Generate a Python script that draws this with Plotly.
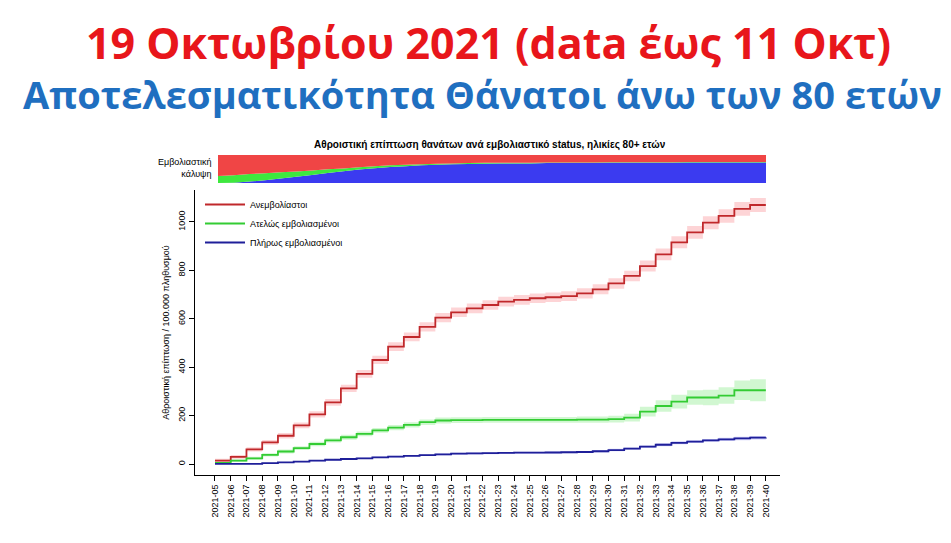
import plotly.graph_objects as go

weeks = [f"2021-{w:02d}" for w in range(5, 41)]
unvax = [14,30,61,90,117,160,205,255,313,373,430,485,525,567,605,627,643,657,671,678,685,689,694,705,722,746,777,818,866,916,957,997,1025,1054,1070,1070]
partial = [5,14,24,38,52,66,83,98,111,125,139,151,162,173,180,182,182,183,183,183,183,183,183,184,184,186,192,217,240,258,275,275,283,305,305,305]
full = [1,1,1,4,7,10,14,18,21,24,28,31,34,37,40,43,44,45,46,47,47,48,49,50,53,58,64,72,80,88,93,98,102,106,109,110]
unvax_ci = [8,8,9,10,11,12,13,14,15,16,17,18,18,19,19,20,20,20,20,20,20,20,20,21,21,22,22,23,24,25,26,27,28,28,29,29]
partial_ci = [4,5,6,7,8,8,9,9,10,10,10,11,11,11,12,12,12,12,12,12,12,12,12,13,13,14,16,20,24,28,30,32,34,40,45,45]
full_ci = [1,1,1,2,2,2,3,3,3,3,3,4,4,4,4,4,4,4,4,4,4,4,4,4,5,5,5,5,6,6,6,6,7,7,7,7]
cov_full = [0,0.01,0.05,0.10,0.16,0.22,0.29,0.36,0.42,0.48,0.53,0.57,0.60,0.63,0.65,0.67,0.68,0.69,0.70,0.70,0.70,0.71,0.71,0.71,0.71,0.72,0.72,0.72,0.72,0.72,0.73,0.73,0.73,0.73,0.73,0.73]
cov_partial = [0.25,0.27,0.27,0.25,0.22,0.19,0.16,0.13,0.10,0.08,0.07,0.06,0.05,0.04,0.04,0.03,0.03,0.03,0.02,0.02,0.02,0.02,0.02,0.02,0.02,0.02,0.02,0.02,0.02,0.02,0.02,0.02,0.02,0.02,0.02,0.02]
names = ["Ανεμβολίαστοι", "Ατελώς εμβολιασμένοι", "Πλήρως εμβολιασμένοι"]

W, H, OFF = 951, 543, 8
def px(x): return (x - OFF) / W
def py(y): return 1 - (y - OFF) / H

idx = list(range(len(weeks)))
fig = go.Figure()
series = [(unvax, unvax_ci, "#c0282b", "rgba(250,160,165,0.45)"),
          (partial, partial_ci, "#33cc33", "rgba(140,235,140,0.4)"),
          (full, full_ci, "#1f1f99", "rgba(140,140,240,0.4)")]
for (v, ci, lc, fc), nm in zip(series, names):
    fig.add_trace(go.Scatter(x=idx, y=[a-b for a, b in zip(v, ci)], mode="lines", line=dict(width=0, shape="hv"), showlegend=False, hoverinfo="skip"))
    fig.add_trace(go.Scatter(x=idx, y=[a+b for a, b in zip(v, ci)], mode="lines", line=dict(width=0, shape="hv"), fill="tonexty", fillcolor=fc, showlegend=False, hoverinfo="skip"))
for (v, ci, lc, fc), nm in zip(series, names):
    fig.add_trace(go.Scatter(x=idx, y=v, mode="lines", line=dict(color=lc, width=1.8, shape="hv"), name=nm))

cov_red = [1 - a - b for a, b in zip(cov_full, cov_partial)]
for vals, col in [(cov_full, "#3b3bf0"), (cov_partial, "#3ee83e"), (cov_red, "#f04545")]:
    fig.add_trace(go.Scatter(x=idx, y=vals, xaxis="x2", yaxis="y2", stackgroup="c", mode="none", fillcolor=col, showlegend=False, hoverinfo="skip"))

fig.update_layout(
    width=W, height=H, margin=dict(l=0, r=0, t=0, b=0),
    paper_bgcolor="white", plot_bgcolor="white",
    font=dict(family="Liberation Sans, Arial", color="black"),
    xaxis=dict(domain=[px(195), px(780)], anchor="y", range=[-1.27, 35.9], tickmode="array", tickvals=idx, ticktext=weeks,
               tickangle=-90, tickfont=dict(size=9), showgrid=False, zeroline=False, showline=True, linecolor="black",
               ticks="outside", ticklen=5, tickcolor="black"),
    yaxis=dict(domain=[py(475), py(190)], range=[-45, 1132], tickvals=[0, 200, 400, 600, 800, 1000], tickangle=-90,
               tickfont=dict(size=9), showgrid=False, zeroline=False, showline=True, linecolor="black", ticks="outside",
               ticklen=5, tickcolor="black", title=dict(text="Αθροιστική επίπτωση / 100.000 πληθυσμού", font=dict(size=9), standoff=6)),
    xaxis2=dict(domain=[px(218), px(766)], anchor="y2", range=[0, 35], visible=False),
    yaxis2=dict(domain=[py(183), py(155)], range=[0, 1], visible=False),
    legend=dict(x=px(200), y=py(190), xanchor="left", yanchor="top", font=dict(size=9), bgcolor="rgba(0,0,0,0)",
                traceorder="normal", tracegroupgap=0, itemwidth=40),
    annotations=[
        dict(text="<b>19 Οκτωβρίου 2021 (data έως 11 Οκτ)</b>", x=px(488), y=py(42), xref="paper", yref="paper", showarrow=False,
             yanchor="middle", font=dict(size=43, color="#e8161b", family="Open Sans, Liberation Sans")),
        dict(text="<b>Αποτελεσματικότητα Θάνατοι άνω των 80 ετών</b>", x=px(482), y=py(94), xref="paper", yref="paper", showarrow=False,
             yanchor="middle", font=dict(size=38, color="#1f6fc0", family="Open Sans, Liberation Sans")),
        dict(text="<b>Αθροιστική επίπτωση θανάτων ανά εμβολιαστικό status, ηλικίες 80+ ετών</b>", x=px(490), y=py(145), xref="paper", yref="paper",
             yanchor="middle", showarrow=False, font=dict(size=10)),
        dict(text="Εμβολιαστική<br>κάλυψη", x=px(214), y=py(168), xref="paper", yref="paper", xanchor="right", yanchor="middle", align="right",
             showarrow=False, font=dict(size=9)),
    ],
)
fig.write_html("out.html")
